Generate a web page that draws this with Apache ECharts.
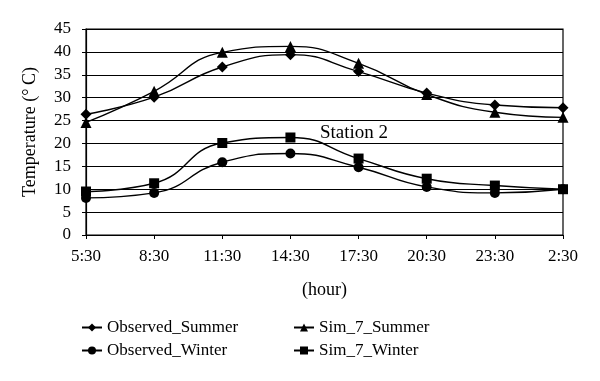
<!DOCTYPE html>
<html><head><meta charset="utf-8">
<script src="https://cdn.jsdelivr.net/npm/echarts@6/dist/echarts.min.js"></script>
<style>html,body{margin:0;padding:0;background:#fff}#c{width:600px;height:381px}</style>
</head><body><div id="c"></div>
<script>
const categories = ['5:30','8:30','11:30','14:30','17:30','20:30','23:30','2:30'];
const observedSummer = [26.4, 30.1, 36.7, 39.4, 35.7, 31.0, 28.4, 27.8];
const simSummer = [24.6, 31.4, 39.9, 41.2, 37.5, 30.7, 26.8, 25.7];
const observedWinter = [8.1, 9.2, 15.9, 17.8, 14.8, 10.5, 9.2, 10.0];
const simWinter = [9.5, 11.3, 20.1, 21.3, 16.7, 12.3, 10.8, 10.0];
const yTicks = [0,5,10,15,20,25,30,35,40,45];

const font = 'Liberation Serif';
const chart = echarts.init(document.getElementById('c'));
function s(name, data, symbol, size){
  return {name, type:'line', data, smooth:0.5, symbol, symbolSize:size,
    showSymbol:true, lineStyle:{color:'#000', width:1.4}, itemStyle:{color:'#000'}, z:3};
}
chart.setOption({
  animation:false,
  textStyle:{fontFamily:font, color:'#000'},
  grid:{left:86, right:37, top:29, bottom:146, show:true, borderColor:'#000', borderWidth:1.2, backgroundColor:'transparent'},
  title:{text:'Station 2', left:315, top:119, textStyle:{fontFamily:font, fontSize:19, fontWeight:'normal', color:'#000'}},
  xAxis:{type:'category', data:categories, boundaryGap:false,
    name:'(hour)', nameLocation:'middle', nameGap:46, nameTextStyle:{fontFamily:font, fontSize:18, color:'#000'},
    axisLine:{lineStyle:{color:'#000', width:1.2}},
    axisTick:{show:true, inside:false, length:4, lineStyle:{color:'#000'}},
    axisLabel:{fontFamily:font, fontSize:17, color:'#000', margin:13},
    splitLine:{show:false}},
  yAxis:{type:'value', min:yTicks[0], max:yTicks[yTicks.length-1], interval:5,
    name:'Temperature (°\u2009C)', nameLocation:'middle', nameGap:47, nameRotate:90,
    nameTextStyle:{fontFamily:font, fontSize:18, color:'#000'},
    axisLine:{show:true, lineStyle:{color:'#000', width:1.2}},
    axisTick:{show:true, length:4, lineStyle:{color:'#000'}},
    axisLabel:{fontFamily:font, fontSize:17, color:'#000', margin:15},
    splitLine:{show:true, lineStyle:{color:'#000', width:1.2}}},
  legend:[
    {data:['Observed_Summer','Observed_Winter'], orient:'vertical', left:76, top:314, itemGap:6,
     itemWidth:20, itemHeight:10, textStyle:{fontFamily:font, fontSize:17, color:'#000'}},
    {data:['Sim_7_Summer','Sim_7_Winter'], orient:'vertical', left:288, top:314, itemGap:6,
     itemWidth:20, itemHeight:10, textStyle:{fontFamily:font, fontSize:17, color:'#000'}}
  ],
  series:[
    s('Observed_Summer', observedSummer, 'diamond', 11),
    s('Sim_7_Summer', simSummer, 'triangle', 11),
    s('Observed_Winter', observedWinter, 'circle', 10),
    s('Sim_7_Winter', simWinter, 'rect', 10)
  ]
});
</script></body></html>
